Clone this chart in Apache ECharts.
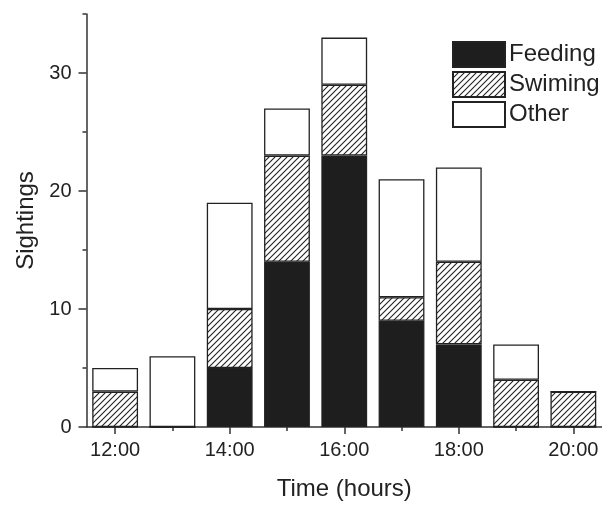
<!DOCTYPE html>
<html>
<head>
<meta charset="utf-8">
<script src="https://cdn.jsdelivr.net/npm/echarts@6/dist/echarts.min.js"></script>
<style>html,body{margin:0;padding:0;background:#fff;}#c{width:602px;height:506px;}</style>
</head>
<body>
<div id="c"></div>
<script>
const categories = ['12:00','13:00','14:00','15:00','16:00','17:00','18:00','19:00','20:00'];
const feeding  = [0, 0, 5, 14, 23, 9, 7, 0, 0];
const swimming = [3, 0, 5, 9, 6, 2, 7, 4, 3];
const other    = [2, 6, 9, 4, 4, 10, 8, 3, 0];
const yMajorTicks = [0, 10, 20, 30];
const yMinorTicks = [5, 15, 25, 35];

function hatch() {
  const s = 6;
  const cv = document.createElement('canvas');
  cv.width = s; cv.height = s;
  const ctx = cv.getContext('2d');
  ctx.fillStyle = '#fff';
  ctx.fillRect(0, 0, s, s);
  ctx.strokeStyle = '#222';
  ctx.lineWidth = 1.1;
  ctx.beginPath();
  ctx.moveTo(-1, s + 1); ctx.lineTo(s + 1, -1);
  ctx.moveTo(-1, 1); ctx.lineTo(1, -1);
  ctx.moveTo(s - 1, s + 1); ctx.lineTo(s + 1, s - 1);
  ctx.stroke();
  return { image: cv, repeat: 'repeat' };
}

const chart = echarts.init(document.getElementById('c'), null, { renderer: 'canvas' });
const font = 'Liberation Sans, Arial, sans-serif';
const axisCol = '#333';
const border = { borderColor: '#222', borderWidth: 1.3 };

chart.setOption({
  animation: false,
  backgroundColor: '#fff',
  textStyle: { fontFamily: font },
  grid: { left: 86.5, right: -2.5, top: 14, bottom: 74, containLabel: false },
  legend: {
    orient: 'vertical', left: 452, top: 41, padding: 0,
    itemWidth: 52, itemHeight: 25, itemGap: 3,
    icon: 'rect',
    textStyle: { fontSize: 24, color: '#222', fontFamily: font, padding: [0, 0, 0, -1] },
    data: ['Feeding', 'Swiming', 'Other']
  },
  xAxis: [{
    type: 'category', data: categories, position: 'bottom',
    name: 'Time (hours)', nameLocation: 'middle', nameGap: 50,
    nameTextStyle: { fontSize: 24, color: '#222', fontFamily: font },
    axisLine: { lineStyle: { color: axisCol, width: 1.5 } },
    axisTick: { show: true, interval: 1, alignWithLabel: true, length: 7, inside: false, lineStyle: { color: axisCol, width: 1.5 } },
    axisLabel: { interval: 1, fontSize: 20, color: '#222', margin: 13, fontFamily: font }
  }, {
    type: 'category', data: categories, position: 'bottom',
    axisLine: { show: false },
    axisTick: { show: true, interval: 0, alignWithLabel: true, length: 4, lineStyle: { color: axisCol, width: 1.5 } },
    axisLabel: { show: false }
  }],
  yAxis: [{
    type: 'value', min: 0, max: 35, position: 'left',
    name: 'Sightings', nameLocation: 'middle', nameGap: 42,
    nameTextStyle: { fontSize: 24, color: '#222', fontFamily: font },
    axisLine: { show: true, lineStyle: { color: axisCol, width: 1.5 } },
    axisTick: { show: true, length: 8, customValues: yMajorTicks, lineStyle: { color: axisCol, width: 1.5 } },
    axisLabel: { fontSize: 20, color: '#222', margin: 15, customValues: yMajorTicks, fontFamily: font },
    splitLine: { show: false }
  }, {
    type: 'value', min: 0, max: 35, position: 'left',
    axisLine: { show: false },
    axisTick: { show: true, length: 4, customValues: yMinorTicks, lineStyle: { color: axisCol, width: 1.5 } },
    axisLabel: { show: false, customValues: yMinorTicks },
    splitLine: { show: false }
  }],
  series: [{
    name: 'Feeding', type: 'bar', stack: 'a', data: feeding, barCategoryGap: '20%',
    itemStyle: Object.assign({ color: '#1e1e1e' }, border)
  }, {
    name: 'Swiming', type: 'bar', stack: 'a', data: swimming,
    itemStyle: Object.assign({ color: hatch() }, border)
  }, {
    name: 'Other', type: 'bar', stack: 'a', data: other,
    itemStyle: Object.assign({ color: '#fff' }, border)
  }]
});
</script>
</body>
</html>
